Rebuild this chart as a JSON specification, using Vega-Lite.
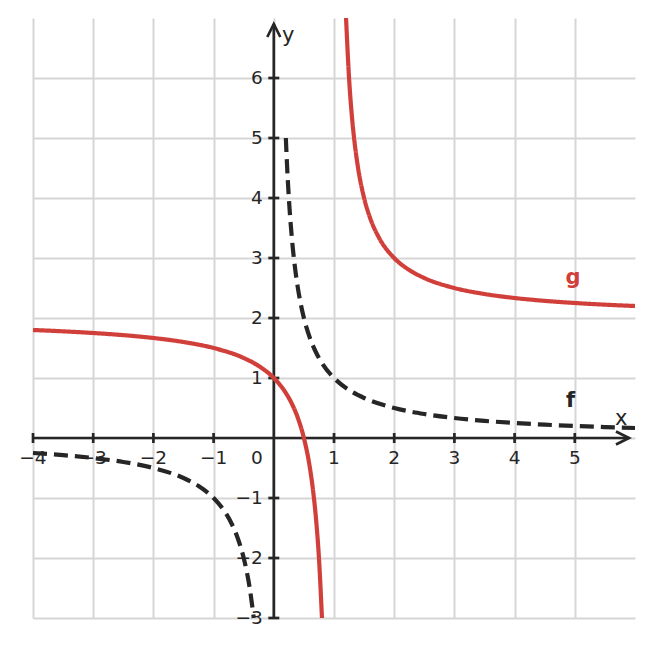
{
  "$schema": "https://vega.github.io/schema/vega-lite/v6.json",
  "width": 602,
  "height": 600,
  "autosize": {"type": "none"},
  "padding": {"left": 33, "top": 18, "right": 18, "bottom": 30},
  "background": "white",
  "config": {
    "view": {"stroke": null},
    "font": "DejaVu Sans"
  },
  "datasets": {
    "one": [{"id": 1}],
    "curves": [
      {"fn": "f", "branch": "f1", "x": -4, "y": -0.25},
      {"fn": "f", "branch": "f1", "x": -3.5, "y": -0.2857},
      {"fn": "f", "branch": "f1", "x": -3, "y": -0.3333},
      {"fn": "f", "branch": "f1", "x": -2.5, "y": -0.4},
      {"fn": "f", "branch": "f1", "x": -2, "y": -0.5},
      {"fn": "f", "branch": "f1", "x": -1.5, "y": -0.6667},
      {"fn": "f", "branch": "f1", "x": -1.25, "y": -0.8},
      {"fn": "f", "branch": "f1", "x": -1, "y": -1},
      {"fn": "f", "branch": "f1", "x": -0.8, "y": -1.25},
      {"fn": "f", "branch": "f1", "x": -0.7, "y": -1.4286},
      {"fn": "f", "branch": "f1", "x": -0.6, "y": -1.6667},
      {"fn": "f", "branch": "f1", "x": -0.5, "y": -2},
      {"fn": "f", "branch": "f1", "x": -0.45, "y": -2.2222},
      {"fn": "f", "branch": "f1", "x": -0.4, "y": -2.5},
      {"fn": "f", "branch": "f1", "x": -0.3333, "y": -3},
      {"fn": "f", "branch": "f2", "x": 0.2, "y": 5},
      {"fn": "f", "branch": "f2", "x": 0.22, "y": 4.5455},
      {"fn": "f", "branch": "f2", "x": 0.25, "y": 4},
      {"fn": "f", "branch": "f2", "x": 0.3, "y": 3.3333},
      {"fn": "f", "branch": "f2", "x": 0.35, "y": 2.8571},
      {"fn": "f", "branch": "f2", "x": 0.4, "y": 2.5},
      {"fn": "f", "branch": "f2", "x": 0.5, "y": 2},
      {"fn": "f", "branch": "f2", "x": 0.6, "y": 1.6667},
      {"fn": "f", "branch": "f2", "x": 0.7, "y": 1.4286},
      {"fn": "f", "branch": "f2", "x": 0.8, "y": 1.25},
      {"fn": "f", "branch": "f2", "x": 1, "y": 1},
      {"fn": "f", "branch": "f2", "x": 1.25, "y": 0.8},
      {"fn": "f", "branch": "f2", "x": 1.5, "y": 0.6667},
      {"fn": "f", "branch": "f2", "x": 2, "y": 0.5},
      {"fn": "f", "branch": "f2", "x": 2.5, "y": 0.4},
      {"fn": "f", "branch": "f2", "x": 3, "y": 0.3333},
      {"fn": "f", "branch": "f2", "x": 3.5, "y": 0.2857},
      {"fn": "f", "branch": "f2", "x": 4, "y": 0.25},
      {"fn": "f", "branch": "f2", "x": 4.5, "y": 0.2222},
      {"fn": "f", "branch": "f2", "x": 5, "y": 0.2},
      {"fn": "f", "branch": "f2", "x": 5.5, "y": 0.1818},
      {"fn": "f", "branch": "f2", "x": 6, "y": 0.1667},
      {"fn": "g", "branch": "g1", "x": -4, "y": 1.8},
      {"fn": "g", "branch": "g1", "x": -3.5, "y": 1.7778},
      {"fn": "g", "branch": "g1", "x": -3, "y": 1.75},
      {"fn": "g", "branch": "g1", "x": -2.5, "y": 1.7143},
      {"fn": "g", "branch": "g1", "x": -2, "y": 1.6667},
      {"fn": "g", "branch": "g1", "x": -1.5, "y": 1.6},
      {"fn": "g", "branch": "g1", "x": -1, "y": 1.5},
      {"fn": "g", "branch": "g1", "x": -0.5, "y": 1.3333},
      {"fn": "g", "branch": "g1", "x": -0.25, "y": 1.2},
      {"fn": "g", "branch": "g1", "x": 0, "y": 1},
      {"fn": "g", "branch": "g1", "x": 0.2, "y": 0.75},
      {"fn": "g", "branch": "g1", "x": 0.3, "y": 0.5714},
      {"fn": "g", "branch": "g1", "x": 0.4, "y": 0.3333},
      {"fn": "g", "branch": "g1", "x": 0.5, "y": 0},
      {"fn": "g", "branch": "g1", "x": 0.6, "y": -0.5},
      {"fn": "g", "branch": "g1", "x": 0.65, "y": -0.8571},
      {"fn": "g", "branch": "g1", "x": 0.7, "y": -1.3333},
      {"fn": "g", "branch": "g1", "x": 0.75, "y": -2},
      {"fn": "g", "branch": "g1", "x": 0.8, "y": -3},
      {"fn": "g", "branch": "g2", "x": 1.2, "y": 7},
      {"fn": "g", "branch": "g2", "x": 1.25, "y": 6},
      {"fn": "g", "branch": "g2", "x": 1.3, "y": 5.3333},
      {"fn": "g", "branch": "g2", "x": 1.35, "y": 4.8571},
      {"fn": "g", "branch": "g2", "x": 1.4, "y": 4.5},
      {"fn": "g", "branch": "g2", "x": 1.5, "y": 4},
      {"fn": "g", "branch": "g2", "x": 1.6, "y": 3.6667},
      {"fn": "g", "branch": "g2", "x": 1.75, "y": 3.3333},
      {"fn": "g", "branch": "g2", "x": 2, "y": 3},
      {"fn": "g", "branch": "g2", "x": 2.25, "y": 2.8},
      {"fn": "g", "branch": "g2", "x": 2.5, "y": 2.6667},
      {"fn": "g", "branch": "g2", "x": 3, "y": 2.5},
      {"fn": "g", "branch": "g2", "x": 3.5, "y": 2.4},
      {"fn": "g", "branch": "g2", "x": 4, "y": 2.3333},
      {"fn": "g", "branch": "g2", "x": 4.5, "y": 2.2857},
      {"fn": "g", "branch": "g2", "x": 5, "y": 2.25},
      {"fn": "g", "branch": "g2", "x": 5.5, "y": 2.2222},
      {"fn": "g", "branch": "g2", "x": 6, "y": 2.2}
    ],
    "xticks": [
      {"v": -4, "label": "−4"},
      {"v": -3, "label": "−3"},
      {"v": -2, "label": "−2"},
      {"v": -1, "label": "−1"},
      {"v": 1, "label": "1"},
      {"v": 2, "label": "2"},
      {"v": 3, "label": "3"},
      {"v": 4, "label": "4"},
      {"v": 5, "label": "5"}
    ],
    "yticks": [
      {"v": -3, "label": "−3"},
      {"v": -2, "label": "−2"},
      {"v": -1, "label": "−1"},
      {"v": 1, "label": "1"},
      {"v": 2, "label": "2"},
      {"v": 3, "label": "3"},
      {"v": 4, "label": "4"},
      {"v": 5, "label": "5"},
      {"v": 6, "label": "6"}
    ],
    "names": [
      {"fn": "f", "x": 4.93, "y": 0.62},
      {"fn": "g", "x": 4.97, "y": 2.66}
    ]
  },
  "layer": [
    {
      "data": {"name": "xticks"},
      "mark": {"type": "point", "opacity": 0},
      "encoding": {
        "x": {
          "field": "v", "type": "quantitative",
          "scale": {"domain": [-4, 6], "nice": false, "zero": false},
          "axis": {
            "values": [-4, -3, -2, -1, 0, 1, 2, 3, 4, 5],
            "grid": true, "gridColor": "#d6d6d6", "gridWidth": 2,
            "labels": false, "ticks": false, "domain": false, "title": null
          }
        },
        "y": {
          "datum": 0, "type": "quantitative",
          "scale": {"domain": [-3, 7], "nice": false, "zero": false},
          "axis": {
            "values": [-3, -2, -1, 0, 1, 2, 3, 4, 5, 6],
            "grid": true, "gridColor": "#d6d6d6", "gridWidth": 2,
            "labels": false, "ticks": false, "domain": false, "title": null
          }
        }
      }
    },
    {
      "data": {"name": "one"},
      "mark": {"type": "rule", "color": "#262626", "strokeWidth": 2.7},
      "encoding": {
        "x": {"datum": -4, "type": "quantitative"},
        "x2": {"datum": 5.9},
        "y": {"datum": 0, "type": "quantitative"}
      }
    },
    {
      "data": {"name": "one"},
      "mark": {"type": "rule", "color": "#262626", "strokeWidth": 2.7},
      "encoding": {
        "x": {"datum": 0, "type": "quantitative"},
        "y": {"datum": -3, "type": "quantitative"},
        "y2": {"datum": 6.9}
      }
    },
    {
      "data": {"name": "one"},
      "mark": {"type": "point", "shape": "M-1,-0.5L0,0L-1,0.5", "size": 676, "filled": false, "stroke": "#262626", "strokeWidth": 2.7, "opacity": 1},
      "encoding": {
        "x": {"datum": 5.9, "type": "quantitative"},
        "y": {"datum": 0, "type": "quantitative"}
      }
    },
    {
      "data": {"name": "one"},
      "mark": {"type": "point", "shape": "M-0.5,1L0,0L0.5,1", "size": 676, "filled": false, "stroke": "#262626", "strokeWidth": 2.7, "opacity": 1},
      "encoding": {
        "x": {"datum": 0, "type": "quantitative"},
        "y": {"datum": 6.9, "type": "quantitative"}
      }
    },
    {
      "data": {"name": "xticks"},
      "mark": {"type": "tick", "orient": "vertical", "size": 10, "thickness": 2.7, "color": "#262626", "opacity": 1},
      "encoding": {
        "x": {"field": "v", "type": "quantitative"},
        "y": {"datum": 0, "type": "quantitative"}
      }
    },
    {
      "data": {"name": "yticks"},
      "mark": {"type": "tick", "orient": "horizontal", "size": 11, "thickness": 2.7, "color": "#262626", "opacity": 1},
      "encoding": {
        "y": {"field": "v", "type": "quantitative"},
        "x": {"datum": 0, "type": "quantitative"}
      }
    },
    {
      "data": {"name": "xticks"},
      "mark": {"type": "text", "fontSize": 18.5, "color": "#262626", "align": "center", "baseline": "middle", "dy": 20},
      "encoding": {
        "x": {"field": "v", "type": "quantitative"},
        "y": {"datum": 0, "type": "quantitative"},
        "text": {"field": "label"}
      }
    },
    {
      "data": {"name": "yticks"},
      "mark": {"type": "text", "fontSize": 18.5, "color": "#262626", "align": "right", "baseline": "middle", "dx": -11},
      "encoding": {
        "y": {"field": "v", "type": "quantitative"},
        "x": {"datum": 0, "type": "quantitative"},
        "text": {"field": "label"}
      }
    },
    {
      "data": {"name": "one"},
      "mark": {"type": "text", "fontSize": 18.5, "color": "#262626", "align": "center", "baseline": "middle", "dx": -17, "dy": 20},
      "encoding": {
        "x": {"datum": 0, "type": "quantitative"},
        "y": {"datum": 0, "type": "quantitative"},
        "text": {"value": "0"}
      }
    },
    {
      "data": {"name": "one"},
      "mark": {"type": "text", "fontSize": 21, "color": "#262626", "align": "center", "baseline": "middle"},
      "encoding": {
        "x": {"datum": 5.77, "type": "quantitative"},
        "y": {"datum": 0.32, "type": "quantitative"},
        "text": {"value": "x"}
      }
    },
    {
      "data": {"name": "one"},
      "mark": {"type": "text", "fontSize": 21, "color": "#262626", "align": "center", "baseline": "middle"},
      "encoding": {
        "x": {"datum": 0.24, "type": "quantitative"},
        "y": {"datum": 6.7, "type": "quantitative"},
        "text": {"value": "y"}
      }
    },
    {
      "data": {"name": "curves"},
      "mark": {"type": "line", "strokeWidth": 4.2, "interpolate": "monotone"},
      "encoding": {
        "x": {"field": "x", "type": "quantitative"},
        "y": {"field": "y", "type": "quantitative"},
        "detail": {"field": "branch"},
        "color": {"field": "fn", "type": "nominal", "scale": {"domain": ["f", "g"], "range": ["#262626", "#d13f3a"]}, "legend": null},
        "strokeDash": {"field": "fn", "type": "nominal", "scale": {"domain": ["f", "g"], "range": [[14, 7], [1, 0]]}, "legend": null}
      }
    },
    {
      "data": {"name": "names"},
      "mark": {"type": "text", "fontSize": 21, "fontWeight": "bold", "align": "center", "baseline": "middle"},
      "encoding": {
        "x": {"field": "x", "type": "quantitative"},
        "y": {"field": "y", "type": "quantitative"},
        "text": {"field": "fn"},
        "color": {"field": "fn", "type": "nominal", "scale": {"domain": ["f", "g"], "range": ["#262626", "#d13f3a"]}, "legend": null}
      }
    }
  ]
}
